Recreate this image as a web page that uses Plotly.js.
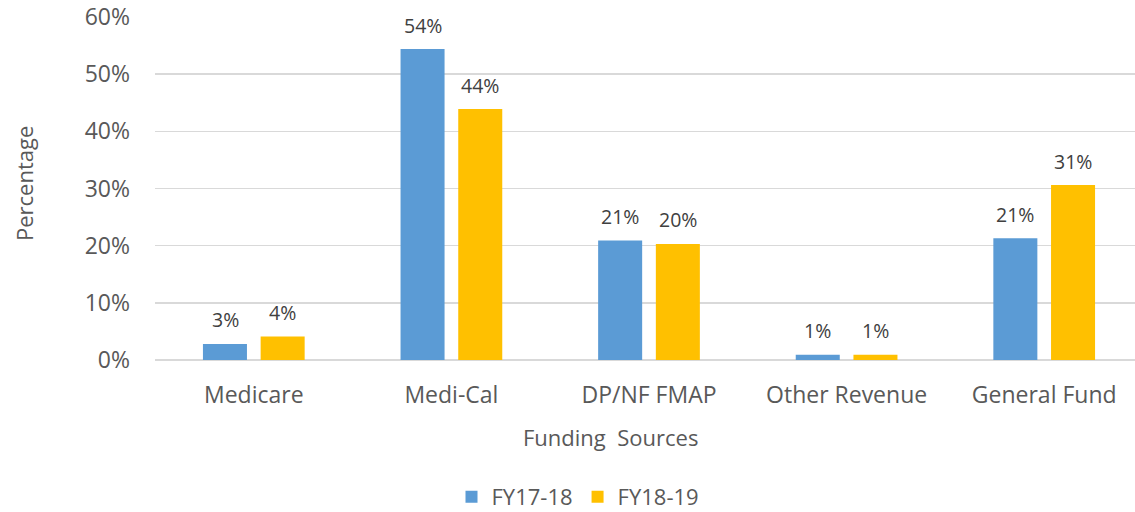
<!DOCTYPE html>
<html>
<head>
<meta charset="utf-8">
<script src="https://cdn.plot.ly/plotly-3.0.1.min.js"></script>
<style>
  html, body { margin: 0; padding: 0; overflow: hidden; background: #fff; }
</style>
</head>
<body>
<div id="chart"></div>
<script>
var categories = ['Medicare', 'Medi-Cal', 'DP/NF FMAP', 'Other Revenue', 'General Fund'];
var fy1718 = [2.8, 54.4, 20.9, 0.9, 21.3];
var fy1819 = [4.1, 43.9, 20.3, 0.9, 30.6];
var seriesNames = ['FY17-18', 'FY18-19'];
var yTicks = [0, 10, 20, 30, 40, 50, 60];
var yTickText = yTicks.map(function(t) { return t + '%'; });

var fontFamily = '"Open Sans", "Noto Sans", sans-serif';
var blue = '#5B9BD5';
var gold = '#FFC000';

var traces = [
  {
    type: 'bar', name: seriesNames[0], x: categories, y: fy1718,
    marker: {color: blue}, hoverinfo: 'skip'
  },
  {
    type: 'bar', name: seriesNames[1], x: categories, y: fy1819,
    marker: {color: gold}, hoverinfo: 'skip'
  }
];

var W = 1143, H = 512, L = 155, T = 17, B = 152;
var plotW = W - L, plotH = H - T - B;

// data labels above each bar, shifted over its group slot
var annotations = [];
var offset = 28.8;
[fy1718, fy1819].forEach(function(vals, s) {
  vals.forEach(function(v, i) {
    annotations.push({
      x: categories[i], y: v, xref: 'x', yref: 'y',
      text: Math.round(v) + '%', showarrow: false,
      xshift: s === 0 ? -offset : offset, yshift: 24,
      xanchor: 'center', yanchor: 'middle',
      font: {family: fontFamily, size: 19.5, color: '#404040'}
    });
  });
});

// axis titles
annotations.push({
  x: (610 - L) / plotW, y: (H - B - 437) / plotH, xref: 'paper', yref: 'paper',
  text: 'Funding\u00a0 Sources', showarrow: false, xanchor: 'center', yanchor: 'middle',
  font: {family: fontFamily, size: 22, color: '#595959'}
});
annotations.push({
  x: (24 - L) / plotW, y: (H - B - 184) / plotH, xref: 'paper', yref: 'paper',
  text: 'Percentage', showarrow: false, textangle: -90, xanchor: 'center', yanchor: 'middle',
  font: {family: fontFamily, size: 22, color: '#595959'}
});

var layout = {
  width: W, height: H,
  margin: {l: L, r: 0, t: T, b: B},
  paper_bgcolor: '#ffffff', plot_bgcolor: '#ffffff',
  barmode: 'group', bargap: 0.416, bargroupgap: 0.237,
  font: {family: fontFamily, size: 23, color: '#595959'},
  showlegend: true,
  legend: {
    orientation: 'h', x: 578 / W, xanchor: 'center', xref: 'container',
    y: (H - 497) / H, yref: 'container', yanchor: 'middle',
    font: {family: fontFamily, size: 22, color: '#595959'},
    itemwidth: 30, tracegroupgap: 0
  },
  xaxis: {
    type: 'category', showgrid: false, zeroline: false, showline: false,
    ticks: '', ticklabelstandoff: 19, fixedrange: true
  },
  yaxis: {
    range: [0, 60], tickvals: yTicks, ticktext: yTickText,
    showgrid: true, gridcolor: '#D9D9D9', gridwidth: 1.5,
    zeroline: true, zerolinecolor: '#D9D9D9', zerolinewidth: 1.5,
    showline: false, ticks: '', ticklabelstandoff: 24, fixedrange: true
  },
  annotations: annotations
};

Plotly.newPlot('chart', traces, layout, {displayModeBar: false, staticPlot: true});
</script>
</body>
</html>
